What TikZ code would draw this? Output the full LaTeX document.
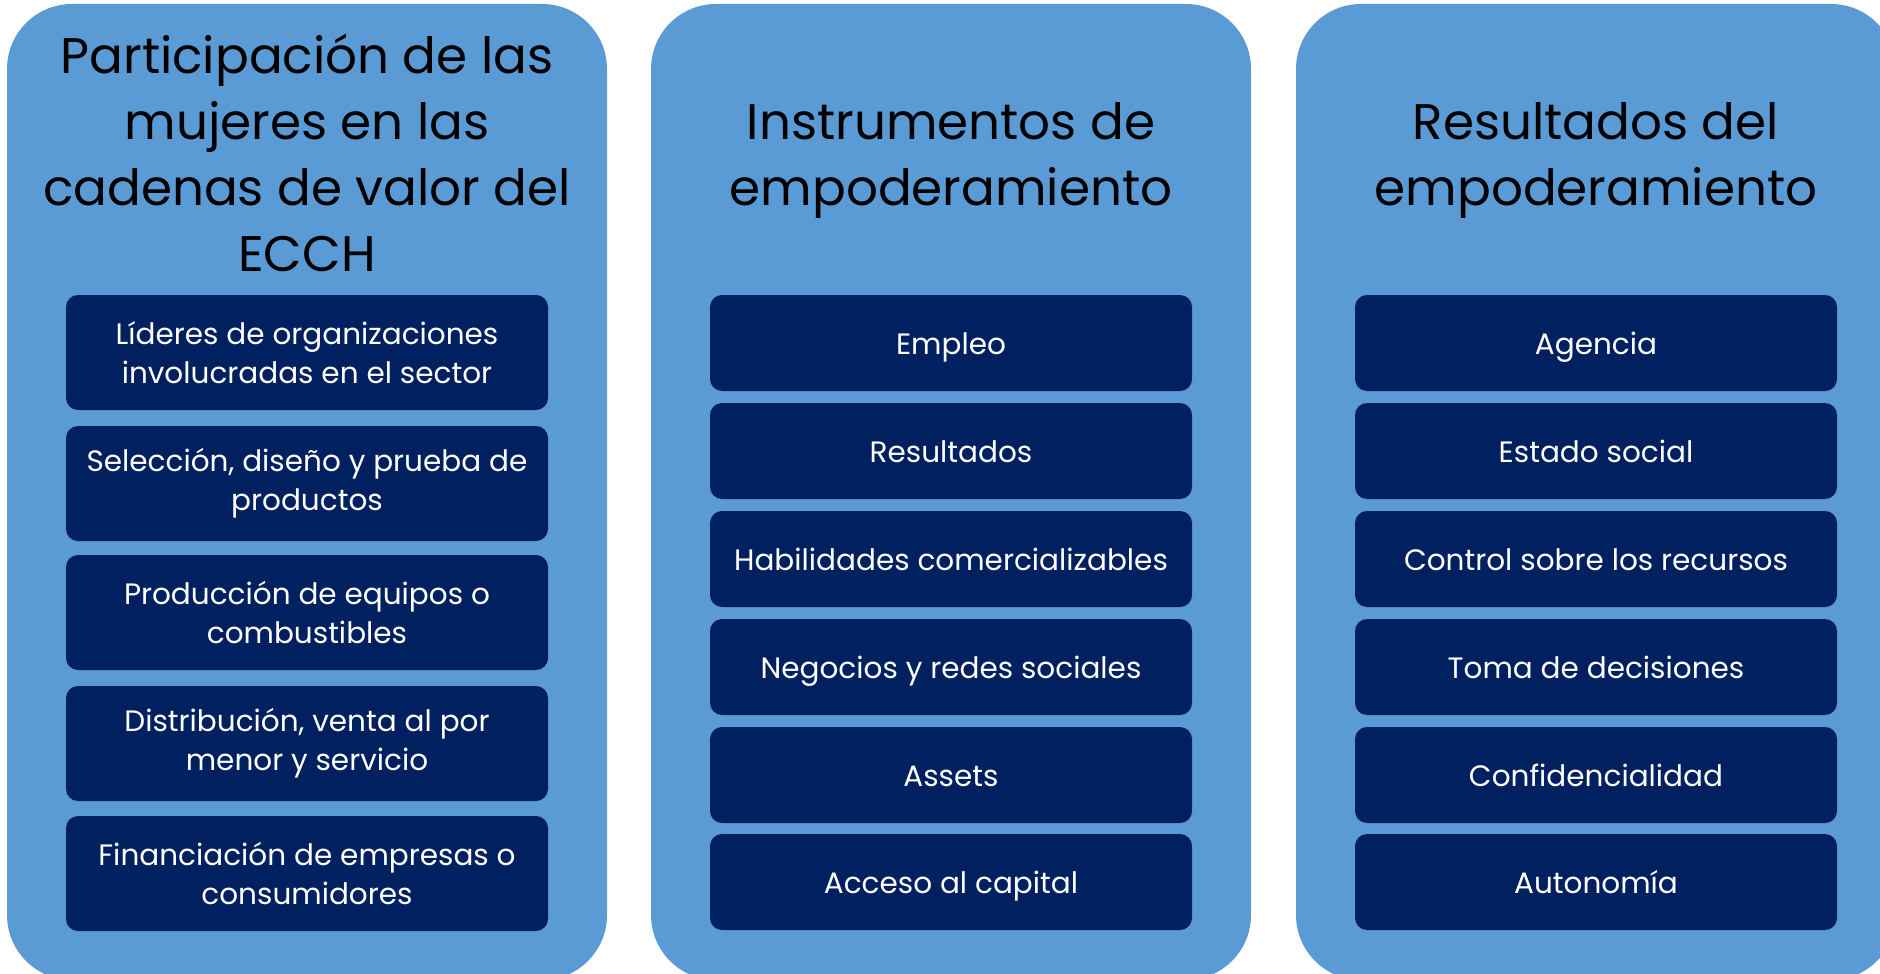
\documentclass[tikz,border=0pt]{standalone}
\usepackage{fontspec}
\setmainfont{Poppins}
\definecolor{panelblue}{HTML}{5B9BD5}
\definecolor{boxblue}{HTML}{002060}
\newcommand\myvstrut{\rule[-8pt]{0pt}{39pt}}
\begin{document}
\begin{tikzpicture}[x=1pt,y=-1pt,
  panel/.style={fill=panelblue,draw=none,rounded corners=65pt,minimum width=600pt,minimum height=976pt,inner sep=0pt},
  title/.style={text=black,align=center,font=\fontsize{50}{66}\selectfont,inner sep=0pt},
  item/.style={fill=boxblue,draw=none,rounded corners=12pt,minimum width=482pt,text=white,align=center,inner sep=0pt,font=\fontsize{29.5}{39}\selectfont},
  itemA/.style={item,minimum height=115pt},
  itemB/.style={item,minimum height=96pt,execute at begin node=\myvstrut}]
\useasboundingbox (0,0) rectangle (1880,974);
% panels
\node[panel] (p1) at (307,492) {};
\node[panel] (p2) at (951,492) {};
\node[panel] (p3) at (1596,492) {};
% titles
\node[title] (t1) at (307,153) {Participación de las\\mujeres en las\\cadenas de valor del\\ECCH};
\node[title] (t2) at (951,160) {Instrumentos de\\empoderamiento};
\node[title] (t3) at (1596,160) {Resultados del\\empoderamiento};
% column 1
\node[itemA] (a1) at (307,352.5) {Líderes de organizaciones\\involucradas en el sector};
\node[itemA] (a2) at (307,483.5) {Selección, diseño y prueba de\\productos};
\node[itemA] (a3) at (307,612.5) {Producción de equipos o\\combustibles};
\node[itemA] (a4) at (307,743.5) {Distribución, venta al por\\menor y servicio};
\node[itemA] (a5) at (307,873.5) {Financiación de empresas o\\consumidores};
% column 2
\node[itemB] (b1) at (951,343) {Empleo};
\node[itemB] (b2) at (951,451) {Resultados};
\node[itemB] (b3) at (951,559) {Habilidades comercializables};
\node[itemB] (b4) at (951,667) {Negocios y redes sociales};
\node[itemB] (b5) at (951,775) {Assets};
\node[itemB] (b6) at (951,882) {Acceso al capital};
% column 3
\node[itemB] (c1) at (1596,343) {Agencia};
\node[itemB] (c2) at (1596,451) {Estado social};
\node[itemB] (c3) at (1596,559) {Control sobre los recursos};
\node[itemB] (c4) at (1596,667) {Toma de decisiones};
\node[itemB] (c5) at (1596,775) {Confidencialidad};
\node[itemB] (c6) at (1596,882) {Autonomía};
\end{tikzpicture}
\end{document}
